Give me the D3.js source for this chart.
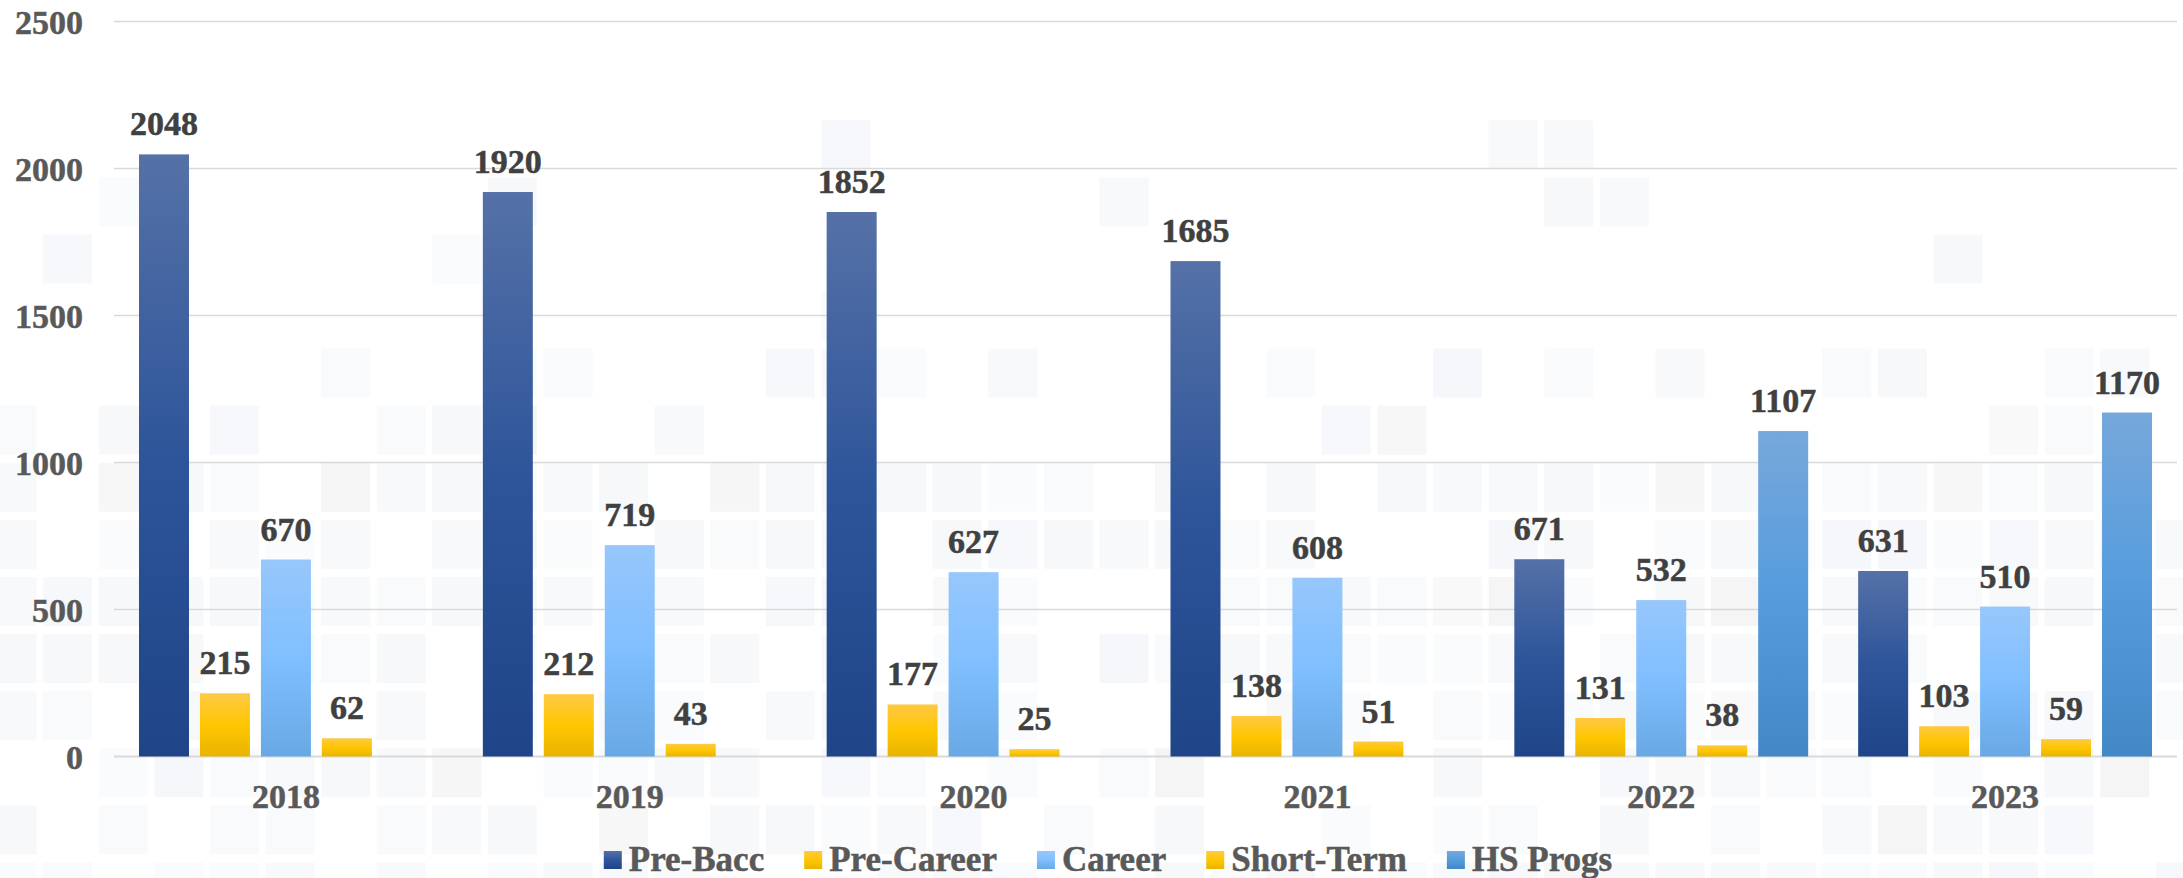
<!DOCTYPE html>
<html>
<head>
<meta charset="utf-8">
<script src="https://cdn.jsdelivr.net/npm/d3@7"></script>
<style>
  html, body { margin: 0; padding: 0; background: #ffffff; }
  svg { display: block; }
  text { font-family: "Liberation Serif", "Times New Roman", serif; font-weight: bold; }
</style>
</head>
<body>
<svg id="chart" width="2183" height="878"></svg>
<script>
const years = ["2018", "2019", "2020", "2021", "2022", "2023"];
const seriesNames = ["Pre-Bacc", "Pre-Career", "Career", "Short-Term", "HS Progs"];
const preBacc = [2048, 1920, 1852, 1685, 671, 631];
const preCareer = [215, 212, 177, 138, 131, 103];
const career = [670, 719, 627, 608, 532, 510];
const shortTerm = [62, 43, 25, 51, 38, 59];
const hsProgs = [null, null, null, null, 1107, 1170];
const yTicks = [0, 500, 1000, 1500, 2000, 2500];

const seriesValues = [preBacc, preCareer, career, shortTerm, hsProgs];

// three-stop vertical gradients per series (top, middle, bottom)
const gradStops = [
  ["#5571a7", "#2e559a", "#1f4488"],
  ["#fec945", "#ffc600", "#e8b400"],
  ["#97c7fc", "#80bfff", "#68a8e4"],
  ["#fec945", "#ffc600", "#e8b400"],
  ["#76a8db", "#569cdd", "#4387c6"]
];

const plot = { left: 114, right: 2177, top: 21.5, bottom: 756.5 };

const svg = d3.select("#chart");
const defs = svg.append("defs");

seriesNames.forEach((s, i) => {
  const g = defs.append("linearGradient")
    .attr("id", "grad" + i)
    .attr("x1", 0).attr("y1", 0).attr("x2", 0).attr("y2", 1);
  g.append("stop").attr("offset", "0%").attr("stop-color", gradStops[i][0]);
  g.append("stop").attr("offset", "50%").attr("stop-color", gradStops[i][1]);
  g.append("stop").attr("offset", "100%").attr("stop-color", gradStops[i][2]);
});

// faint tiled background
const cellW = 55.6, cellH = 57.1, sq = 49;
const cols = d3.range(0, 40), rows = d3.range(0, 16);
function hash(i, j) {
  let h = (i * 374761393 + j * 668265263) | 0;
  h = Math.imul(h ^ (h >>> 13), 1274126177);
  return ((h ^ (h >>> 16)) >>> 0) % 1000 / 1000;
}
function density(r) {
  if (r <= 1) return 0;
  if (r <= 5) return 0.1;
  if (r <= 7) return 0.35;
  return 0.75;
}
const tiles = d3.cross(cols, rows).filter(([c, r]) => hash(c, r) < density(r));
svg.append("g")
  .selectAll("rect")
  .data(tiles)
  .join("rect")
  .attr("x", d => -12.5 + d[0] * cellW)
  .attr("y", d => 6 + d[1] * cellH)
  .attr("width", sq)
  .attr("height", sq)
  .attr("fill", d => hash(d[1] + 7, d[0] + 3) < 0.12 ? "#f3f3f3" : "#f4f6f9")
  .attr("opacity", d => 0.45 + 0.4 * hash(d[0] + 11, d[1] + 5));

const x0 = d3.scaleBand().domain(years).range([plot.left, plot.right]).padding(0);
const x1 = d3.scaleBand().domain(seriesNames).range([0, x0.bandwidth()])
  .paddingInner(0.18).paddingOuter(0.41);
const y = d3.scaleLinear().domain([0, 2500]).range([plot.bottom, plot.top]);

// gridlines
svg.append("g")
  .selectAll("line")
  .data(yTicks)
  .join("line")
  .attr("x1", plot.left)
  .attr("x2", plot.right)
  .attr("y1", d => y(d))
  .attr("y2", d => y(d))
  .attr("stroke", "#d9d9d9")
  .attr("stroke-width", d => d === 0 ? 2 : 1.5);

// y tick labels
svg.append("g")
  .selectAll("text")
  .data(yTicks)
  .join("text")
  .attr("x", 83)
  .attr("y", d => y(d) + 12)
  .attr("text-anchor", "end")
  .attr("font-size", "34px")
  .attr("fill", "#595959")
  .attr("stroke", "#595959")
  .attr("stroke-width", 0.5)
  .text(d => d);

// bars
const barData = [];
years.forEach((yr, yi) => {
  seriesNames.forEach((s, si) => {
    const v = seriesValues[si][yi];
    if (v != null) barData.push({ year: yr, series: s, si, value: v });
  });
});

svg.append("g")
  .selectAll("rect")
  .data(barData)
  .join("rect")
  .attr("x", d => x0(d.year) + x1(d.series))
  .attr("width", x1.bandwidth())
  .attr("y", d => y(d.value))
  .attr("height", d => y(0) - y(d.value))
  .attr("fill", d => `url(#grad${d.si})`);

// value labels
svg.append("g")
  .selectAll("text")
  .data(barData)
  .join("text")
  .attr("x", d => x0(d.year) + x1(d.series) + x1.bandwidth() / 2)
  .attr("y", d => y(d.value) - 19)
  .attr("text-anchor", "middle")
  .attr("font-size", "34px")
  .attr("fill", "#404040")
  .attr("stroke", "#404040")
  .attr("stroke-width", 0.5)
  .text(d => d.value);

// category labels
svg.append("g")
  .selectAll("text")
  .data(years)
  .join("text")
  .attr("x", d => x0(d) + x0.bandwidth() / 2)
  .attr("y", 808)
  .attr("text-anchor", "middle")
  .attr("font-size", "34px")
  .attr("fill", "#595959")
  .attr("stroke", "#595959")
  .attr("stroke-width", 0.5)
  .text(d => d);

// legend
const legend = svg.append("g");
const items = legend.selectAll("g")
  .data(seriesNames)
  .join("g");
items.append("rect")
  .attr("width", 18).attr("height", 18)
  .attr("y", 851)
  .attr("fill", (d, i) => `url(#grad${i})`);
items.append("text")
  .attr("x", 25)
  .attr("y", 871)
  .attr("font-size", "35px")
  .attr("fill", "#595959")
  .attr("stroke", "#595959")
  .attr("stroke-width", 0.5)
  .text(d => d);

let cursor = 0;
const offsets = [];
items.each(function () {
  offsets.push(cursor);
  const tw = d3.select(this).select("text").node().getComputedTextLength();
  cursor += 25 + tw + 40;
});
const totalW = cursor - 40;
const startX = 1108 - totalW / 2;
items.attr("transform", (d, i) => `translate(${startX + offsets[i]},0)`);
</script>
</body>
</html>
